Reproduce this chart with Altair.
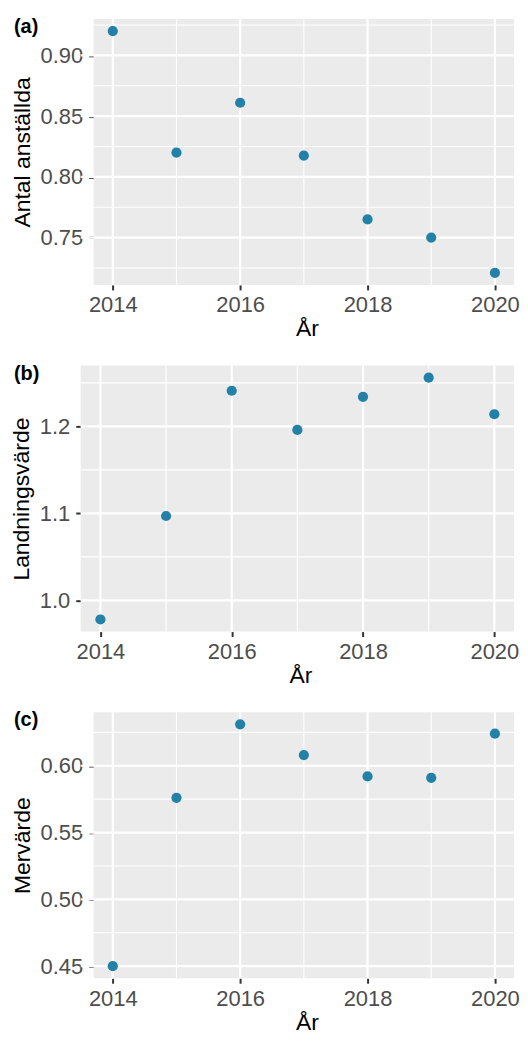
import altair as alt
import pandas as pd

FONT = "Liberation Sans"
POINT_COLOR = "#2381A8"
PANEL_BG = "#EBEBEB"

years = [2014, 2015, 2016, 2017, 2018, 2019, 2020]
antal_anstallda = [0.920, 0.820, 0.861, 0.8175, 0.765, 0.750, 0.721]
landningsvarde = [0.978, 1.097, 1.241, 1.196, 1.234, 1.256, 1.214]
mervarde = [0.450, 0.576, 0.631, 0.608, 0.592, 0.591, 0.624]

x_major = [2014, 2016, 2018, 2020]
x_minor = [2015, 2017, 2019]

a_major = [0.75, 0.80, 0.85, 0.90]
a_minor = [0.725, 0.775, 0.825, 0.875, 0.925]
b_major = [1.0, 1.1, 1.2]
b_minor = [1.05, 1.15, 1.25]
c_major = [0.45, 0.50, 0.55, 0.60]
c_minor = [0.475, 0.525, 0.575, 0.625]

PANEL_W = 435
PANEL_H = 267


def panel(values, ytitle, ymajor, yminor, fmt, tag, inset):
    df = pd.DataFrame({"year": years, "value": values})
    lo, hi = min(values), max(values)
    pad = (hi - lo) * 0.05
    xs = alt.Scale(domain=[min(years) - 0.3, max(years) + 0.3], nice=False,
                   zero=False, range=[inset, PANEL_W])
    ys = alt.Scale(domain=[lo - pad, hi + pad], nice=False, zero=False)
    xax = alt.Axis(values=x_major, format="d", grid=False, titlePadding=2,
                   titleX=(inset + PANEL_W) / 2 + 3)
    yax = alt.Axis(values=ymajor, format=fmt, grid=False, titlePadding=6,
                   labelPadding=6, offset=-inset)

    bg = alt.Chart(pd.DataFrame({"k": [0]})).mark_rect(color=PANEL_BG).encode(
        x=alt.value(inset), x2=alt.value(PANEL_W),
        y=alt.value(0), y2=alt.value(PANEL_H),
    )
    vmin = alt.Chart(pd.DataFrame({"year": x_minor})).mark_rule(
        color="white", strokeWidth=1.1
    ).encode(x=alt.X("year:Q", scale=xs, axis=xax, title="År"))
    hmin = alt.Chart(pd.DataFrame({"value": yminor})).mark_rule(
        color="white", strokeWidth=1.1
    ).encode(y=alt.Y("value:Q", scale=ys, axis=yax, title=ytitle))
    vmaj = alt.Chart(pd.DataFrame({"year": x_major})).mark_rule(
        color="white", strokeWidth=2.2
    ).encode(x=alt.X("year:Q", scale=xs, axis=xax, title="År"))
    hmaj = alt.Chart(pd.DataFrame({"value": ymajor})).mark_rule(
        color="white", strokeWidth=2.2
    ).encode(y=alt.Y("value:Q", scale=ys, axis=yax, title=ytitle))
    pts = alt.Chart(df).mark_circle(size=105, opacity=1, color=POINT_COLOR).encode(
        x=alt.X("year:Q", scale=xs, title="År", axis=xax),
        y=alt.Y("value:Q", scale=ys, title=ytitle, axis=yax),
    )
    tagm = alt.Chart(pd.DataFrame({"t": [tag]})).mark_text(
        align="left", baseline="middle", fontWeight="bold", fontSize=20,
        font=FONT, color="black"
    ).encode(text="t:N", x=alt.value(-67), y=alt.value(8))
    return alt.layer(bg, vmin, hmin, vmaj, hmaj, pts, tagm).properties(
        width=PANEL_W, height=PANEL_H
    )


pa = panel(antal_anstallda, "Antal anställda", a_major, a_minor, ".2f", "(a)", 13)
pb = panel(landningsvarde, "Landningsvärde", b_major, b_minor, ".1f", "(b)", 0)
pc = panel(mervarde, "Mervärde", c_major, c_minor, ".2f", "(c)", 13)

chart = alt.vconcat(pa, pb, pc, spacing=23).properties(
    padding={"left": 2, "top": 7, "right": 0, "bottom": 0}
).configure_view(
    strokeWidth=0
).configure_axis(
    domain=False,
    tickColor="#333333",
    tickWidth=2,
    tickSize=5,
    labelFont=FONT,
    labelFontSize=22,
    labelColor="#4D4D4D",
    labelPadding=5,
    labelFlush=False,
    titleFont=FONT,
    titleFontSize=23,
    titleFontWeight="normal",
    titleColor="black",
)

chart.save("out.html", embed_options={"renderer": "svg", "actions": False})
